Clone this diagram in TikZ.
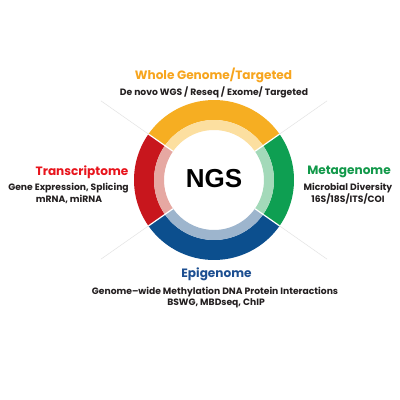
\documentclass[tikz,border=0pt]{standalone}
\usepackage{fontspec}
\setmainfont{Poppins}
\newfontfamily\ngsfont{Liberation Sans}
\usepackage{xcolor}
\definecolor{WgsGold}{HTML}{F6AE22}
\definecolor{WgsPale}{HTML}{FCDFA0}
\definecolor{RnaRed}{HTML}{C8161D}
\definecolor{RnaPale}{HTML}{E6A8A2}
\definecolor{MetaGreen}{HTML}{0E9F52}
\definecolor{MetaPale}{HTML}{A3D9B9}
\definecolor{EpiBlue}{HTML}{0C4F8E}
\definecolor{EpiPale}{HTML}{9DB5CD}
\definecolor{HeadGold}{HTML}{F7A51E}
\definecolor{HeadRed}{HTML}{E8141C}
\definecolor{HeadGreen}{HTML}{12994A}
\definecolor{HeadBlue}{HTML}{1D4F91}
\definecolor{SubInk}{HTML}{231F20}
\usetikzlibrary{calc,positioning}

\tikzset{
  head/.style={font=\bfseries\fontsize{12.1}{12}\selectfont, inner sep=0pt},
  sub/.style={font=\bfseries\fontsize{9.2}{10}\selectfont, text=SubInk, inner sep=0pt},
  sepline/.style={draw=gray!22, line width=0.5pt},
}

% annular sector: start, end, colour
\newcommand{\ringpart}[3]{%
  \fill[#3] ($(c)+(#1:80)$) arc (#1:#2:80) -- ($(c)+(#2:60)$) arc (#2:#1:60) -- cycle;}
\newcommand{\palepart}[3]{%
  \fill[#3] ($(c)+(#1:60)$) arc (#1:#2:60) -- ($(c)+(#2:50)$) arc (#2:#1:50) -- cycle;}

\begin{document}
\begin{tikzpicture}[x=1pt,y=1pt]
		\useasboundingbox[fill=white] (0,0) rectangle (400,400);
		\coordinate (c) at (214,220);
		% faint guide lines
		\foreach \a in {35,145,215,325}
			\draw[sepline] ($(c)+(\a:80)$) -- ($(c)+(\a:138)$);
		% ring
		\ringpart{35}{145}{WgsGold}
		\ringpart{145}{215}{RnaRed}
		\ringpart{215}{325}{EpiBlue}
		\ringpart{-35}{35}{MetaGreen}
		\palepart{35}{145}{WgsPale}
		\palepart{145}{215}{RnaPale}
		\palepart{215}{325}{EpiPale}
		\palepart{-35}{35}{MetaPale}
		\foreach \a in {35,145,215,325}
			\draw[white, line width=1.2pt] ($(c)+(\a:50)$) -- ($(c)+(\a:80)$);
		\node[font=\ngsfont\bfseries\fontsize{26}{26}\selectfont] (ngs) at (214,221) {NGS};
		% labels
		\node[head, text=HeadGold] (wgs) at (213.5,325) {Whole Genome/Targeted};
		\node[sub] (wgssub) at (214,308) {De novo WGS / Reseq / Exome/ Targeted};
		\node[head, text=HeadRed] (rna) at (82,228) {Transcriptome};
		\node[sub] (rnasub1) at (68.5,212) {Gene Expression, Splicing};
		\node[sub] (rnasub2) at (69,201) {mRNA, miRNA};
		\node[head, text=HeadGreen] (meta) at (349,228) {Metagenome};
		\node[sub] (metasub1) at (348,212) {Microbial Diversity};
		\node[sub] (metasub2) at (348,201) {16S/18S/ITS/COI};
		\node[head, text=HeadBlue] (epi) at (216.5,126) {Epigenome};
		\node[sub] (episub1) at (215,108) {Genome–wide Methylation DNA Protein Interactions};
		\node[sub] (episub2) at (216,97) {BSWG, MBDseq, ChIP};
	\end{tikzpicture}
\end{document}
